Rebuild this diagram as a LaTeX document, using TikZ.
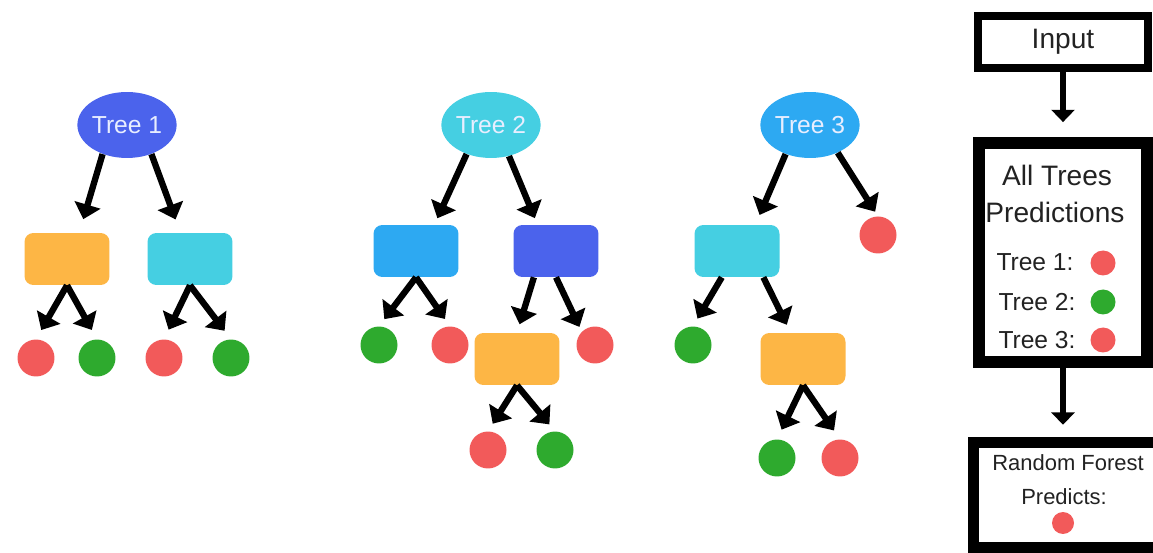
\documentclass[tikz,border=0pt]{standalone}
\usepackage{fontspec}
\setmainfont{Liberation Sans}
\usetikzlibrary{arrows.meta, shapes.geometric}
\definecolor{treeindigo}{HTML}{4B63EC}
\definecolor{treecyan}{HTML}{45CFE2}
\definecolor{treeblue}{HTML}{2DA9F2}
\definecolor{leafred}{HTML}{F25A5A}
\definecolor{leafgreen}{HTML}{2EAA2E}
\definecolor{boxorange}{HTML}{FDB645}
\definecolor{labelwhite}{HTML}{E8EEFF}
\definecolor{textgray}{HTML}{222222}
\begin{document}
\begin{tikzpicture}[x=0.02cm, y=-0.02cm,
    root/.style={ellipse, minimum width=1.98cm, minimum height=1.32cm, inner sep=0pt,
        text=labelwhite, font=\fontsize{14}{16}\selectfont},
    split/.style={rectangle, rounded corners=5pt, minimum width=1.7cm, minimum height=1.04cm},
    leaf/.style={circle, minimum size=0.74cm, inner sep=0pt},
    dot/.style={circle, minimum size=0.5cm, inner sep=0pt},
    branch/.style={line width=3.6pt, -{Triangle[length=8.5pt, width=15pt]}, shorten >=5pt},
    flow/.style={line width=3.4pt, -{Triangle[length=7pt, width=13pt]}},
    panel/.style={draw, rectangle, text=textgray},
    caption/.style={text=textgray, inner sep=0pt}]
    \useasboundingbox (0,0) rectangle (1153,553);
    % tree 1
    \node[root, fill=treeindigo] (t1) at (127,125) {Tree 1};
    \node[split, fill=boxorange] (t1l) at (67,259) {};
    \node[split, fill=treecyan] (t1r) at (190,259) {};
    \node[leaf, fill=leafred] (t1ll) at (36,358) {};
    \node[leaf, fill=leafgreen] (t1lr) at (97,358) {};
    \node[leaf, fill=leafred] (t1rl) at (164,358) {};
    \node[leaf, fill=leafgreen] (t1rr) at (231,358) {};
    \draw[branch, shorten >=8pt] (t1.230) -- (t1l.65);
    \draw[branch, shorten >=8pt] (t1.310) -- (t1r.110);
    \draw[branch, shorten >=6pt] (t1l.south) -- (t1ll.north);
    \draw[branch, shorten >=6pt] (t1l.south) -- (t1lr.north);
    \draw[branch, shorten >=6pt] (t1r.south) -- (t1rl.north);
    \draw[branch, shorten >=6pt] (t1r.south) -- (t1rr.north);
    % tree 2
    \node[root, fill=treecyan] (t2) at (491,125) {Tree 2};
    \node[split, fill=treeblue] (t2l) at (416,251) {};
    \node[split, fill=treeindigo] (t2r) at (556,251) {};
    \node[leaf, fill=leafgreen] (t2ll) at (379,345) {};
    \node[leaf, fill=leafred] (t2lr) at (450,345) {};
    \node[split, fill=boxorange] (t2rl) at (517,359) {};
    \node[leaf, fill=leafred] (t2rr) at (595,345) {};
    \node[leaf, fill=leafred] (t2rll) at (488,450) {};
    \node[leaf, fill=leafgreen] (t2rlr) at (555,450) {};
    \draw[branch, shorten >=4pt] (t2.230) -- (t2l.55);
    \draw[branch, shorten >=4pt] (t2.300) -- (t2r.125);
    \draw[branch] (t2l.south) -- (t2ll.north);
    \draw[branch] (t2l.south) -- (t2lr.north);
    \draw[branch] (t2r.230) -- (t2rl.north);
    \draw[branch, shorten >=3pt] (t2r.south) -- (t2rr.135);
    \draw[branch] (t2rl.south) -- (t2rll.north);
    \draw[branch] (t2rl.south) -- (t2rlr.north);
    % tree 3
    \node[root, fill=treeblue] (t3) at (810,125) {Tree 3};
    \node[split, fill=treecyan] (t3l) at (737,251) {};
    \node[leaf, fill=leafred] (t3r) at (878,235) {};
    \node[leaf, fill=leafgreen] (t3ll) at (693,345) {};
    \node[split, fill=boxorange] (t3lr) at (803,359) {};
    \node[leaf, fill=leafgreen] (t3lrl) at (777,458) {};
    \node[leaf, fill=leafred] (t3lrr) at (840,458) {};
    \draw[branch, shorten >=6pt] (t3.230) -- (t3l.55);
    \draw[branch, shorten >=3pt] (t3.315) -- (t3r.north);
    \draw[branch] (t3l.240) -- (t3ll.north);
    \draw[branch] (t3l.315) -- (t3lr.115);
    \draw[branch, shorten >=6pt] (t3lr.south) -- (t3lrl.north);
    \draw[branch, shorten >=6pt] (t3lr.south) -- (t3lrr.north);
    % input
    \node[panel, line width=4.5pt, minimum width=3.4cm, minimum height=1.04cm,
        font=\fontsize{16}{19}\selectfont] (inp) at (1063,42) {Input};
    % all trees predictions
    \node[panel, line width=6.8pt, minimum width=3.36cm, minimum height=4.38cm] (all) at (1063,252.5) {};
    \node[caption, font=\fontsize{16}{19}\selectfont] (allt) at (1057,175) {All Trees};
    \node[caption, font=\fontsize{16}{19}\selectfont] (allp) at (1055,212) {Predictions};
    \node[caption, font=\fontsize{14}{17}\selectfont] (p1) at (1035,262) {Tree 1:};
    \node[caption, font=\fontsize{14}{17}\selectfont] (p2) at (1037,302) {Tree 2:};
    \node[caption, font=\fontsize{14}{17}\selectfont] (p3) at (1037,340) {Tree 3:};
    \node[dot, fill=leafred] (p1c) at (1103,263) {};
    \node[dot, fill=leafgreen] (p2c) at (1103,302) {};
    \node[dot, fill=leafred] (p3c) at (1103,340) {};
    % random forest
    \node[panel, line width=6.2pt, minimum width=3.72cm, minimum height=2.1cm] (rf) at (1066.5,495) {};
    \node[caption, font=\fontsize{12.5}{15}\selectfont] (rft) at (1068,463) {Random Forest};
    \node[caption, font=\fontsize{12.5}{15}\selectfont] (rfp) at (1064,497) {Predicts:};
    \node[circle, minimum size=0.44cm, inner sep=0pt, fill=leafred] (rfc) at (1063,523) {};
    \draw[flow, shorten >=8.5pt] (inp) -- (inp |- all.north);
    \draw[flow, shorten >=7pt] (all) -- (all |- rf.north);
\end{tikzpicture}
\end{document}
